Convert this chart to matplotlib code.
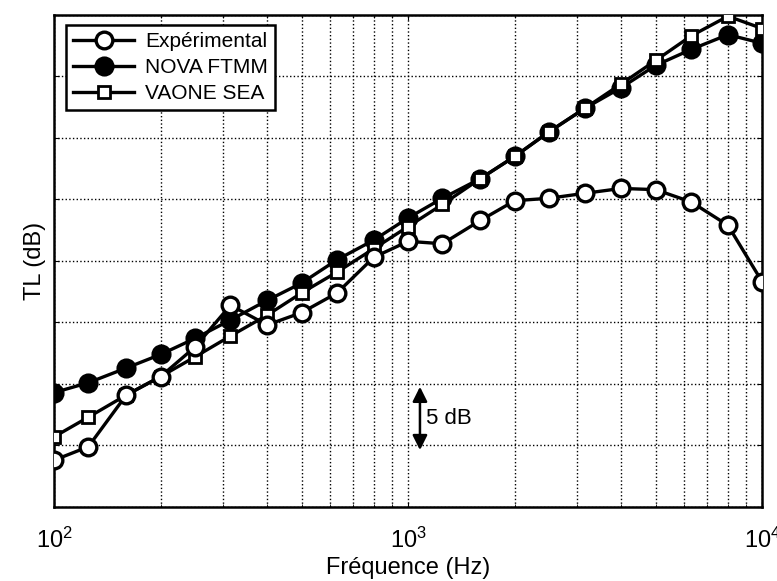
import matplotlib.pyplot as plt

plt.rcParams['font.family'] = ['Liberation Sans', 'DejaVu Sans']
plt.rcParams['mathtext.fontset'] = 'custom'
plt.rcParams['mathtext.rm'] = 'Liberation Sans'

# third-octave bands
freq = [100, 125, 160, 200, 250, 315, 400, 500, 630, 800, 1000,
        1250, 1600, 2000, 2500, 3150, 4000, 5000, 6300, 8000, 10000]

# TL values (dB, arbitrary offset - axis has no labels)
tl_exp = [3.8, 4.9, 9.1, 10.6, 13.0, 16.4, 14.8, 15.8, 17.4, 20.3, 21.6,
          21.4, 23.3, 24.9, 25.1, 25.5, 25.9, 25.8, 24.8, 22.9, 18.3]
tl_nova = [9.3, 10.1, 11.3, 12.4, 13.7, 15.2, 16.8, 18.2, 20.1, 21.7, 23.5,
           25.1, 26.7, 28.5, 30.5, 32.4, 34.1, 35.9, 37.2, 38.4, 37.7]
tl_vaone = [5.7, 7.3, 9.1, 10.6, 12.2, 13.9, 15.6, 17.4, 19.1, 21.0, 22.8,
            24.6, 26.7, 28.5, 30.5, 32.4, 34.4, 36.3, 38.3, 39.9, 38.9]

fig = plt.figure(figsize=(7.77, 5.81), dpi=100)
ax = fig.add_axes([0.0695, 0.1274, 0.9115, 0.8468])

l1, = ax.plot(freq, tl_exp, '-o', color='k', lw=2.4, ms=12, mfc='w', mew=2.4, zorder=5)
l2, = ax.plot(freq, tl_nova, '-o', color='k', lw=2.4, ms=13, mfc='k', mew=1.5, zorder=3)
l3, = ax.plot(freq, tl_vaone, '-s', color='k', lw=2.4, ms=9, mfc='w', mew=2.0, zorder=4)

ax.set_xscale('log')
ax.set_xlim(100, 10000)
ax.set_ylim(0, 40)
ax.set_yticks(range(0, 41, 5))
ax.set_yticklabels([])
ax.grid(True, which='major', linestyle=':', color='k', lw=1.0)
ax.grid(True, which='minor', axis='x', linestyle=':', color='k', lw=1.0)
ax.tick_params(which='both', direction='in', top=True, right=True)
ax.tick_params(axis='x', labelsize=17, pad=15)
for s in ax.spines.values():
    s.set_linewidth(1.8)

ax.set_xlabel('Fréquence (Hz)', fontsize=17, labelpad=3)
ax.set_ylabel('TL (dB)', fontsize=17, labelpad=2)

ax.annotate('', xy=(1080, 4.4), xytext=(1080, 10.0),
            arrowprops=dict(arrowstyle='<|-|>', color='k', lw=1.8, mutation_scale=22))
ax.text(1120, 7.2, '5 dB', fontsize=16, va='center', ha='left')

leg = ax.legend([l1, l2, l3], ['Expérimental', 'NOVA FTMM', 'VAONE SEA'],
                loc='upper left', bbox_to_anchor=(0.017, 0.98), fontsize=15,
                frameon=True, fancybox=False, edgecolor='k', framealpha=1,
                handlelength=2.9, borderpad=0.35, labelspacing=0.33, handletextpad=0.55,
                borderaxespad=0.0)
leg.get_frame().set_linewidth(1.8)

fig.savefig('out.png', dpi=100)
